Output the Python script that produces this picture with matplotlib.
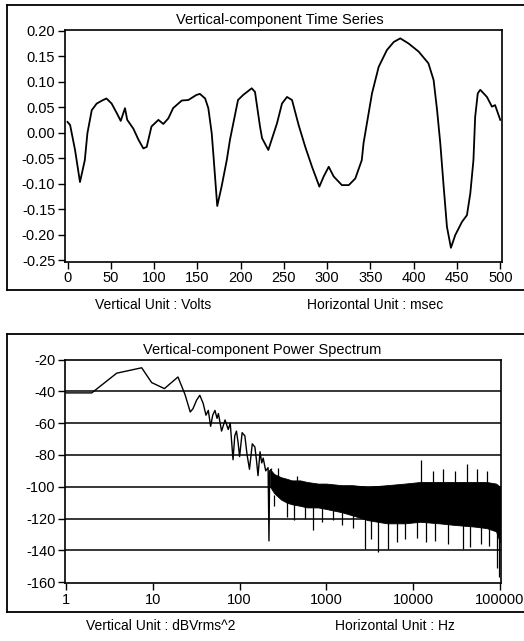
import matplotlib
matplotlib.use("Agg")
import matplotlib.pyplot as plt
from matplotlib.lines import Line2D
from matplotlib.ticker import FixedLocator, FuncFormatter, NullLocator

plt.rcParams['font.family'] = ['Liberation Sans', 'DejaVu Sans']
plt.rcParams['axes.unicode_minus'] = False

# time series (msec, volts)
ts_t = [0, 3, 8.7, 14.4, 20, 23, 28, 33.7, 40, 45, 51, 57, 61.5, 66.4, 69, 76, 82,
        87.6, 91.5, 97, 105, 110.7, 116.5, 122, 132, 139.6, 149, 153, 159, 162.7,
        166.6, 168.4, 173, 178, 184, 187.7, 197, 203, 212.8, 216.6, 222.4, 224.8,
        232, 242, 247.8, 253.6, 259.4, 267, 274.7, 282.5, 291, 296, 301.8, 307.5,
        317, 325, 332.5, 340, 342, 351.8, 359.5, 369, 377, 384.5, 394, 405.7, 417,
        423, 427, 430.7, 434.6, 438.4, 443, 448, 455.8, 461.5, 465.4, 469, 471, 474,
        476.9, 484.6, 490.4, 494, 500]
ts_v = [0.021, 0.015, -0.034, -0.097, -0.054, -0.001, 0.044, 0.057, 0.063, 0.067,
        0.057, 0.038, 0.023, 0.048, 0.025, 0.008, -0.014, -0.031, -0.028, 0.012,
        0.025, 0.017, 0.028, 0.048, 0.063, 0.064, 0.074, 0.076, 0.067, 0.048,
        -0.001, -0.040, -0.144, -0.106, -0.054, -0.014, 0.064, 0.074, 0.087, 0.080,
        0.012, -0.011, -0.034, 0.018, 0.057, 0.070, 0.064, 0.015, -0.028, -0.067,
        -0.106, -0.086, -0.067, -0.086, -0.103, -0.103, -0.090, -0.054, -0.021,
        0.077, 0.129, 0.162, 0.178, 0.185, 0.175, 0.159, 0.136, 0.103, 0.044,
        -0.021, -0.106, -0.185, -0.226, -0.201, -0.175, -0.162, -0.119, -0.054,
        0.031, 0.077, 0.084, 0.070, 0.051, 0.054, 0.025]

# power spectrum, low-frequency trace (Hz, dB)
sp_f = [1, 1.98, 3.84, 7.45, 9.7, 13.6, 19.5, 23.5, 27, 29, 32, 34.8, 38, 41, 43.6,
        46.4, 49, 52, 55, 57, 62, 68, 74, 78, 84, 88, 92, 96, 100, 107, 115, 122,
        130, 140, 150, 157, 163, 172, 180, 187, 200, 213, 218, 222, 233]
sp_db = [-41, -41, -28.6, -25.2, -34.5, -38.3, -31, -42, -53, -51, -45.5, -42.5,
         -47.5, -55, -52, -62, -55, -52, -57, -54, -65, -58, -64, -60, -83, -68,
         -65, -72, -81, -66, -68, -80, -89, -73, -75, -84, -93, -78, -85, -82, -90,
         -88, -134, -90, -89]

# dense noise band above ~200 Hz: upper / lower edge
band_f = [225, 250, 300, 350, 400, 500, 600, 800, 1000, 1500, 2000, 3000, 5000,
          8000, 12000, 20000, 30000, 50000, 70000, 90000, 100000]
band_top = [-89, -92, -94, -95, -96, -96, -97, -98, -98, -99, -99, -100, -99, -98,
            -97, -97, -97, -97, -97, -98, -100]
band_bot = [-100, -104, -108, -110, -111, -112, -113, -113, -114, -116, -118, -121,
            -123, -123, -122, -123, -124, -125, -126, -128, -135]

# isolated spikes out of the band
dip_f = [250, 350, 420, 560, 700, 900, 1200, 1500, 2000, 2800, 3300, 3900, 5100,
         6500, 8000, 11000, 14000, 18000, 25000, 37000, 45000, 60000, 75000, 92000,
         98000]
dip_db = [-112, -119, -121, -120, -127, -122, -121, -124, -126, -139, -133, -141,
          -139, -135, -133, -132, -135, -134, -136, -139, -138, -136, -137, -151, -157]
peak_f = [280, 460, 12400, 17000, 22000, 30000, 42000, 55000, 70000]
peak_db = [-88, -93, -83, -90, -89, -90, -86, -89, -90]

fig = plt.figure(figsize=(5.24, 6.41), dpi=100)
W, H = 524, 641


def fx(px):
    return px / W


def fy(py):
    return 1 - py / H


def frame(top, bottom):
    for xs, ys in [((7, 524), (top, top)), ((7, 524), (bottom, bottom)), ((7, 7), (top, bottom))]:
        fig.add_artist(Line2D([fx(x) for x in xs], [fy(y) for y in ys], color='black', lw=1.3))


def style(ax):
    for s in ax.spines.values():
        s.set_linewidth(1.2)
    ax.tick_params(direction='out', length=5, width=1, labelsize=10.5, pad=2)


frame(5, 290)
frame(334, 612)

# top panel
ax1 = fig.add_axes([fx(65), fy(261.7), fx(502 - 65), (261.7 - 30) / H])
ax1.plot(ts_t, ts_v, color='black', lw=1.3)
ax1.set_xlim(-2.9, 502)
ax1.set_ylim(-0.2533, 0.2014)
ax1.set_xticks(range(0, 501, 50))
ax1.set_yticks([0.20, 0.15, 0.10, 0.05, 0.00, -0.05, -0.10, -0.15, -0.20, -0.25])
ax1.yaxis.set_major_formatter(FuncFormatter(lambda v, p: f"{v:.2f}"))
style(ax1)
fig.text(fx(280), fy(20), "Vertical-component Time Series", ha='center', va='center', fontsize=10.5)
fig.text(fx(153), fy(305), "Vertical Unit : Volts", ha='center', va='center', fontsize=10)
fig.text(fx(375), fy(305), "Horizontal Unit : msec", ha='center', va='center', fontsize=10)

# bottom panel
ax2 = fig.add_axes([fx(65), fy(583), fx(501 - 65), (583 - 359.5) / H])
ax2.set_xscale('log')
for y in [-40, -60, -80, -100, -120, -140]:
    ax2.axhline(y, color='black', lw=1.1, zorder=1)
ax2.fill_between(band_f, band_bot, band_top, color='black', lw=0.6, zorder=2)
ax2.vlines(dip_f, [-105] * len(dip_f), dip_db, color='black', lw=0.9, zorder=2)
ax2.vlines(peak_f, [-100] * len(peak_f), peak_db, color='black', lw=0.9, zorder=2)
ax2.plot(sp_f, sp_db, color='black', lw=1.0, zorder=3)
ax2.set_xlim(0.974, 1.027e5)
ax2.set_ylim(-160.5, -20.3)
ax2.xaxis.set_major_locator(FixedLocator([1, 10, 100, 1000, 10000, 100000]))
ax2.xaxis.set_major_formatter(FuncFormatter(lambda v, p: f"{int(round(v))}"))
ax2.xaxis.set_minor_locator(NullLocator())
ax2.set_yticks(range(-20, -161, -20))
style(ax2)
fig.text(fx(262), fy(350), "Vertical-component Power Spectrum", ha='center', va='center', fontsize=10.5)
fig.text(fx(161), fy(626), "Vertical Unit : dBVrms^2", ha='center', va='center', fontsize=10)
fig.text(fx(395), fy(626), "Horizontal Unit : Hz", ha='center', va='center', fontsize=10)

fig.savefig("out.png", dpi=100)
